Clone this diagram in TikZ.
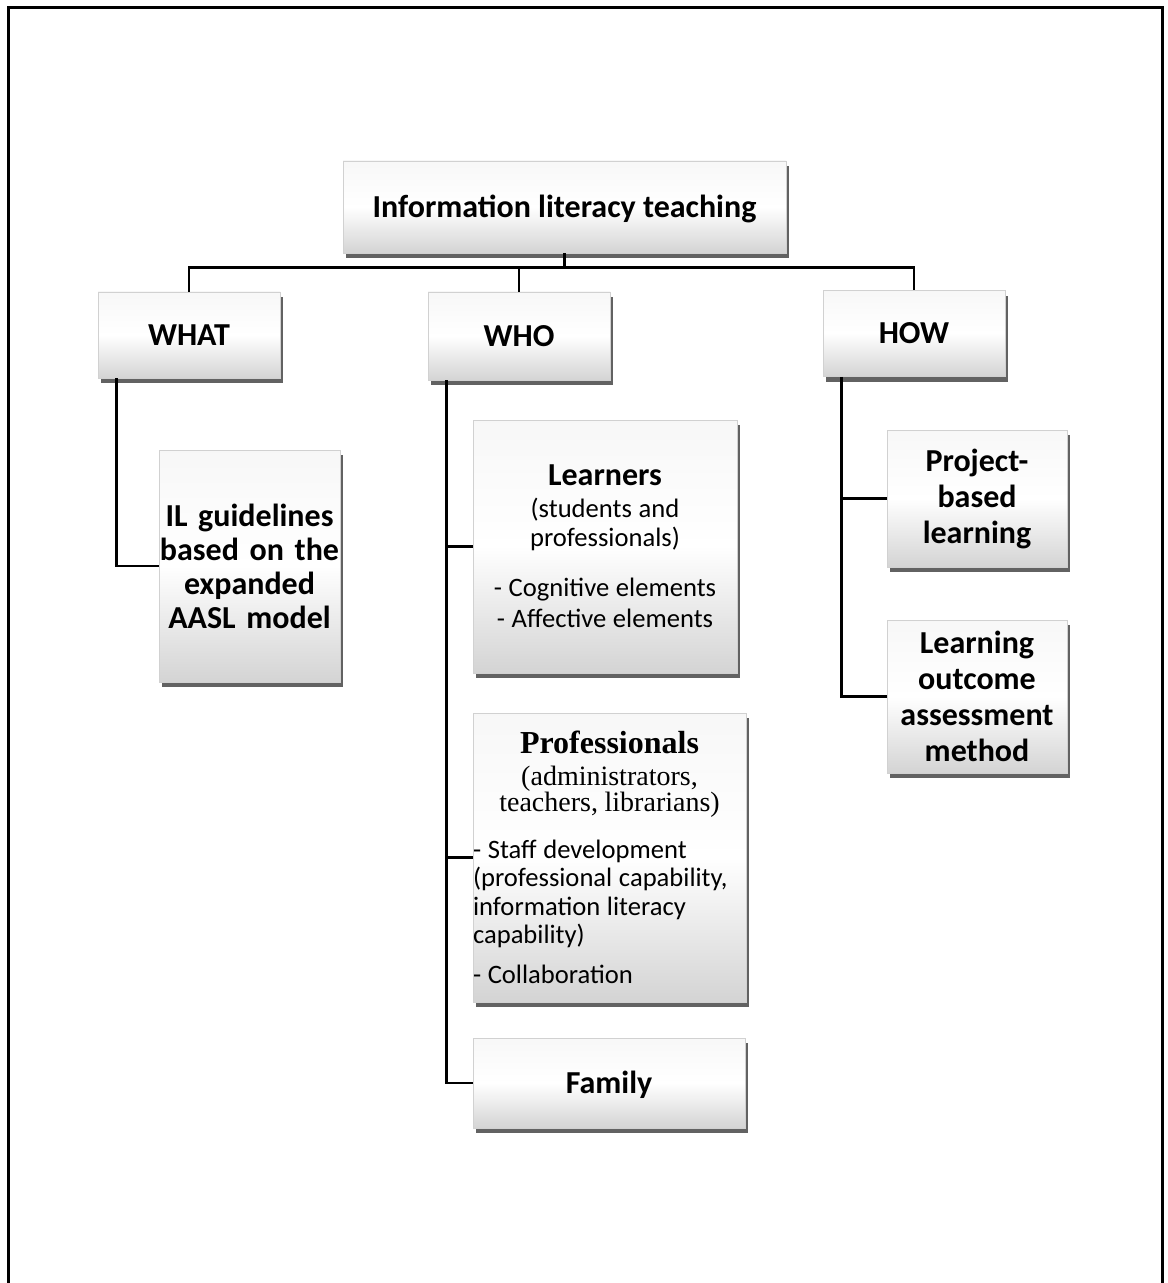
\documentclass[tikz,border=0pt]{standalone}
\usepackage{fontspec}
\setmainfont{Carlito}
\newfontfamily\tnr{Liberation Serif}
\usetikzlibrary{shadows,calc}
\lineskiplimit=-50pt
\begin{document}
\begin{tikzpicture}[x=0.5pt,y=-0.5pt,
  box/.style={draw=black!18, line width=0.4pt, inner sep=0pt,
    top color=black!3, bottom color=black!17, middle color=white,
    drop shadow={shadow xshift=1.4pt, shadow yshift=-2.6pt, fill=black!72, opacity=0.85},
    align=center},
  hd/.style={font=\bfseries\fontsize{16}{17}\selectfont},
  one/.style={hd, text height=10.3pt, text depth=0pt},
  hdb/.style={font=\bfseries\fontsize{16}{18}\selectfont},
  conn/.style={line width=1.45pt, draw=black}]
\useasboundingbox (0,0) rectangle (1167,1283);
\clip (0,0) rectangle (1167,1283);
\fill[white] (0,0) rectangle (1167,1283);
\draw[line width=1.5pt] (8,1300) -- (8,8) -- (1162.5,8) -- (1162.5,1300);

\node[box, one, minimum width=221.5pt, minimum height=46pt] (top) at (564.5,207) {Information literacy teaching};
\node[box, one, minimum width=91pt, minimum height=43pt] (what) at (189,335) {WHAT};
\node[box, one, minimum width=91pt, minimum height=44pt] (who) at (519,336) {WHO};
\node[box, one, minimum width=91pt, minimum height=43pt] (how) at (914,333.5) {HOW};

\node[box, hd, text width=90.5pt, minimum height=116pt] (il) at (249.5,566)
  {IL guidelines\\based on the\\expanded\\AASL model};

\node[box, text width=132pt, minimum height=126.5pt] (learn) at (605,546.5)
  {{\bfseries\fontsize{16}{16}\selectfont Learners\par}
   {\fontsize{13.3}{16}\selectfont (students and\par}
   {\fontsize{13.3}{14.5}\selectfont professionals)\par}
   {\fontsize{13.3}{25}\selectfont - Cognitive elements\par}
   {\fontsize{13.3}{15.5}\selectfont - Affective elements\par}};

\node[box, text width=136.5pt, minimum height=144.5pt, align=left] (prof) at (609.5,857.5)
  {{\centering\tnr\bfseries\fontsize{16}{16}\selectfont Professionals\par}
   {\centering\tnr\fontsize{14}{16}\selectfont (administrators,\par}
   {\centering\tnr\fontsize{14}{13}\selectfont teachers, librarians)\par}
   {\raggedright\fontsize{13.3}{23.5}\selectfont - Staff development\par}
   {\raggedright\fontsize{13.3}{14.2}\selectfont (professional capability,\\information literacy\\capability)\par}
   {\raggedright\fontsize{13.3}{20}\selectfont - Collaboration\par}};

\node[box, one, minimum width=136pt, minimum height=45pt] (fam) at (609,1083) {Family};

\node[box, hdb, text width=90pt, minimum height=68.5pt] (proj) at (977,498.5)
  {Project-\\based\\learning};
\node[box, hdb, text width=90pt, minimum height=76.5pt] (outc) at (977,696.5)
  {Learning\\outcome\\assessment\\method};

% connectors
\coordinate (bus) at (564.5,267.5);
\coordinate (whatT) at ($(what.south west)+(19,0)$);
\coordinate (whoT) at ($(who.south west)+(19,0)$);
\coordinate (howT) at ($(how.south west)+(19,0)$);
\draw[conn] (top.south) -- (bus);
\draw[conn] (what.north) |- (bus) -| (how.north);
\draw[conn] (who.north) -- (who.north |- bus);
\draw[conn] (whatT) |- (il.west);
\draw[conn] (whoT) |- (fam.west);
\draw[conn] (whoT |- learn.west) -- (learn.west);
\draw[conn] (whoT |- prof.west) -- (prof.west);
\draw[conn] (howT) |- (outc.west);
\draw[conn] (howT |- proj.west) -- (proj.west);
\end{tikzpicture}
\end{document}
